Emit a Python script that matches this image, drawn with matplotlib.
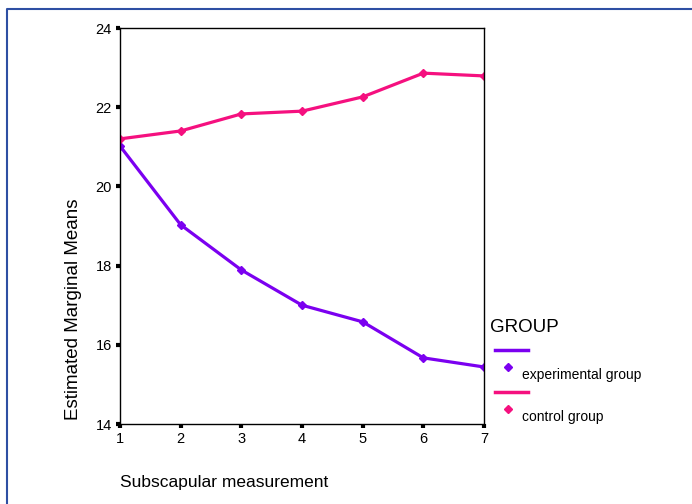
import numpy as np
import matplotlib
matplotlib.use('Agg')
from matplotlib import pyplot as plt
from matplotlib.lines import Line2D

measurement = [1, 2, 3, 4, 5, 6, 7]
experimental = [21.02, 19.03, 17.89, 17.00, 16.58, 15.67, 15.44]
control = [21.20, 21.40, 21.83, 21.90, 22.26, 22.86, 22.79]
groups = ['experimental group', 'control group']
purple = '#7B00F0'
pink = '#F5107F'

plt.rcParams['font.family'] = ['Liberation Sans', 'DejaVu Sans']

fig = plt.figure(figsize=(6.92, 5.04), dpi=100)
ax = fig.add_axes([120/692, 1-424/504, 364/692, 396/504])

ax.plot(measurement, experimental, color=purple, lw=2.3, marker='D', ms=4.5)
ax.plot(measurement, control, color=pink, lw=2.3, marker='D', ms=4.5)

ax.set_xlim(1, 7)
ax.set_ylim(14, 24)
ax.set_xticks(measurement)
ax.set_yticks([14, 16, 18, 20, 22, 24])
ax.tick_params(direction='out', length=3, width=3, labelsize=10.5, pad=3)
for s in ax.spines.values():
    s.set_linewidth(1.0)
fig.text(74/692, 1-309/504, 'Estimated Marginal Means', fontsize=13.5,
         rotation=90, ha='center', va='center')
fig.text(120/692, 1-482/504, 'Subscapular measurement', fontsize=12.5, va='center')

# legend
fig.text(490/692, 1-327/504, 'GROUP', fontsize=13.5, va='center')
for i, (name, col) in enumerate(zip(groups, [purple, pink])):
    y0 = 350 + i*42
    fig.add_artist(Line2D([495/692, 528/692], [1-y0/504]*2, color=col, lw=2.5,
                          transform=fig.transFigure))
    fig.add_artist(Line2D([508/692], [1-(y0+17)/504], color=col, marker='D', ms=4.5,
                          lw=0, transform=fig.transFigure))
    fig.text(522/692, 1-(y0+25)/504, name, fontsize=10, va='center')

# outer frame
fig.add_artist(Line2D([7/692, 7/692, 1], [0, 1-9/504, 1-9/504], color='#2E4FA3',
                      lw=1.5, transform=fig.transFigure))

fig.savefig('out.png', dpi=100)
